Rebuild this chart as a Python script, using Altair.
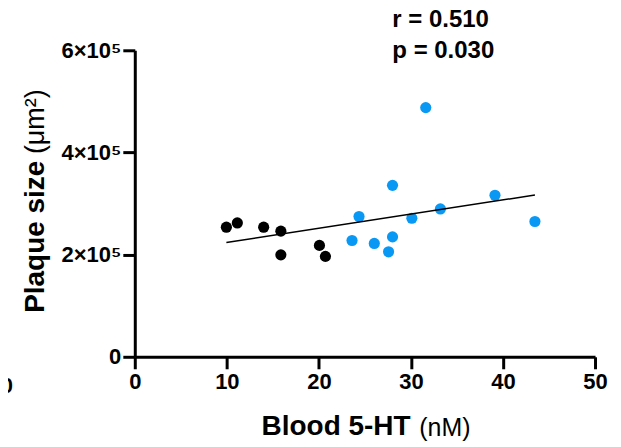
import altair as alt
import pandas as pd

# Data
black_x = [9.95, 11.14, 14.0, 15.87, 15.87, 20.06, 20.71]
black_y = [253700, 262000, 253700, 245900, 199600, 218000, 196500]
blue_x = [31.61, 28.0, 39.13, 33.2, 24.36, 30.1, 43.47, 23.6, 26.02, 28.0, 27.57]
blue_y = [487800, 335600, 316100, 289400, 274500, 271200, 264800, 227700, 221900, 234700, 205500]

x_ticks = [0, 10, 20, 30, 40, 50]
y_ticks = [0, 200000, 400000, 600000]
stats_lines = ["r = 0.510", "p = 0.030"]

df = pd.DataFrame({
    "x": black_x + blue_x,
    "y": black_y + blue_y,
    "grp": ["black"] * len(black_x) + ["blue"] * len(blue_x),
})

FONT = "Liberation Sans"

xs = alt.Scale(domain=[0, 50], nice=False, zero=False)
ys = alt.Scale(domain=[0, 600000], nice=False)

points = alt.Chart(df).mark_circle(size=125, opacity=1).encode(
    x=alt.X("x:Q", scale=xs,
            axis=alt.Axis(values=x_ticks, title=None, labelFontSize=22,
                          labelPadding=3, labelFlush=False)),
    y=alt.Y("y:Q", scale=ys,
            axis=alt.Axis(values=y_ticks, title=None, labelFontSize=22,
                          labelPadding=2,
                          labelExpr="datum.value == 0 ? '0' : (datum.value/100000) + '×10⁵'")),
    color=alt.Color("grp:N", scale=alt.Scale(domain=["black", "blue"],
                                             range=["#000000", "#0A98F5"]),
                    legend=None),
)

reg = alt.Chart(df).transform_regression("x", "y").mark_line(
    color="black", strokeWidth=1.5
).encode(x=alt.X("x:Q", scale=xs), y=alt.Y("y:Q", scale=ys))

def label(text, x, y, size, weight, angle=0, align="left"):
    return alt.Chart(pd.DataFrame({"t": [text]})).mark_text(
        font=FONT, fontSize=size, fontWeight=weight, align=align,
        baseline="alphabetic", angle=angle, color="black"
    ).encode(x=alt.value(x), y=alt.value(y), text="t:N")

texts = [
    label(stats_lines[0], 258, -23, 24, "bold"),
    label(stats_lines[1], 258, 8, 24, "bold"),
    label("Blood 5-HT", 127, 385, 28, "bold"),
    label("(nM)", 285, 386, 25, "normal"),
    label("Plaque size", -91, 263, 28, "bold", angle=270),
    label("(μm²)", -91, 104, 27, "normal", angle=270),
    label("50", -122, 343, 22, "bold", align="right"),
]

chart = alt.layer(points, reg, *texts).properties(
    width=461, height=307,
    autosize=alt.AutoSizeParams(type="none"),
    padding={"left": 127, "top": 42, "right": 18, "bottom": 88},
).configure_view(stroke=None).configure_axis(
    grid=False, domainColor="black", domainWidth=3, tickColor="black",
    tickWidth=3, tickSize=12, labelColor="black", labelFont=FONT,
    labelFontWeight="bold",
)

chart.save("out.html", embed_options={"renderer": "svg", "actions": False})
